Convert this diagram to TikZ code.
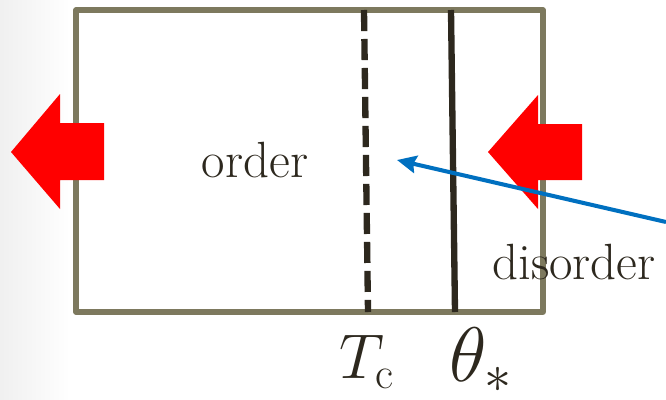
\RequirePackage{fix-cm}
\documentclass[tikz,border=0pt]{standalone}
\usepackage{fontspec}
\usetikzlibrary{arrows.meta}
\definecolor{boxgray}{RGB}{125,121,94}
\definecolor{inkdark}{RGB}{45,40,30}
\definecolor{pointblue}{RGB}{0,112,192}
\tikzset{
  phase/.style={font=\fontsize{29}{34}\selectfont, text=inkdark, inner sep=0pt},
  push/.style={fill=red},
  border/.style={inkdark,line width=3.6pt},
}
\begin{document}
\begin{tikzpicture}[x=0.02cm,y=-0.02cm]
                    \useasboundingbox (0,0) rectangle (666,399);
                    \shade[left color=gray!12,right color=white] (0,0) rectangle (70,399);
                    \draw[boxgray,line width=2.9pt,line join=round] (76,10) rectangle (543,312);
                    \draw[border,dash pattern=on 12pt off 4.5pt] (364,10) -- (368,312);
                    \draw[border] (451,10) -- (455,312);
                    \node[phase] (order) at (255,160) {order};
                    \node[phase] (disorder) at (574,262) {disorder};
                    \node[phase,font=\fontsize{36}{40}\selectfont] (tc) at (367,362) {$T_{\mathrm c}$};
                    \node[phase,font=\fontsize{44}{48}\selectfont] (theta) at (481,360) {$\theta_*$};
                    \fill[push] (11,152) -- (60,94) -- (60,123) -- (104,123) -- (104,180) -- (60,180) -- (60,209) -- cycle;
                    \fill[push] (488,152) -- (538,95) -- (538,124) -- (582,124) -- (582,180) -- (538,180) -- (538,209) -- cycle;
                    \coordinate (tail) at (666,222);
                    \coordinate (pointer) at (397,160);
                    \draw[pointblue,line width=2.3pt,-{Stealth[length=11pt,width=10pt,inset=1.5pt]}] (tail) -- (pointer);
                \end{tikzpicture}
\end{document}
